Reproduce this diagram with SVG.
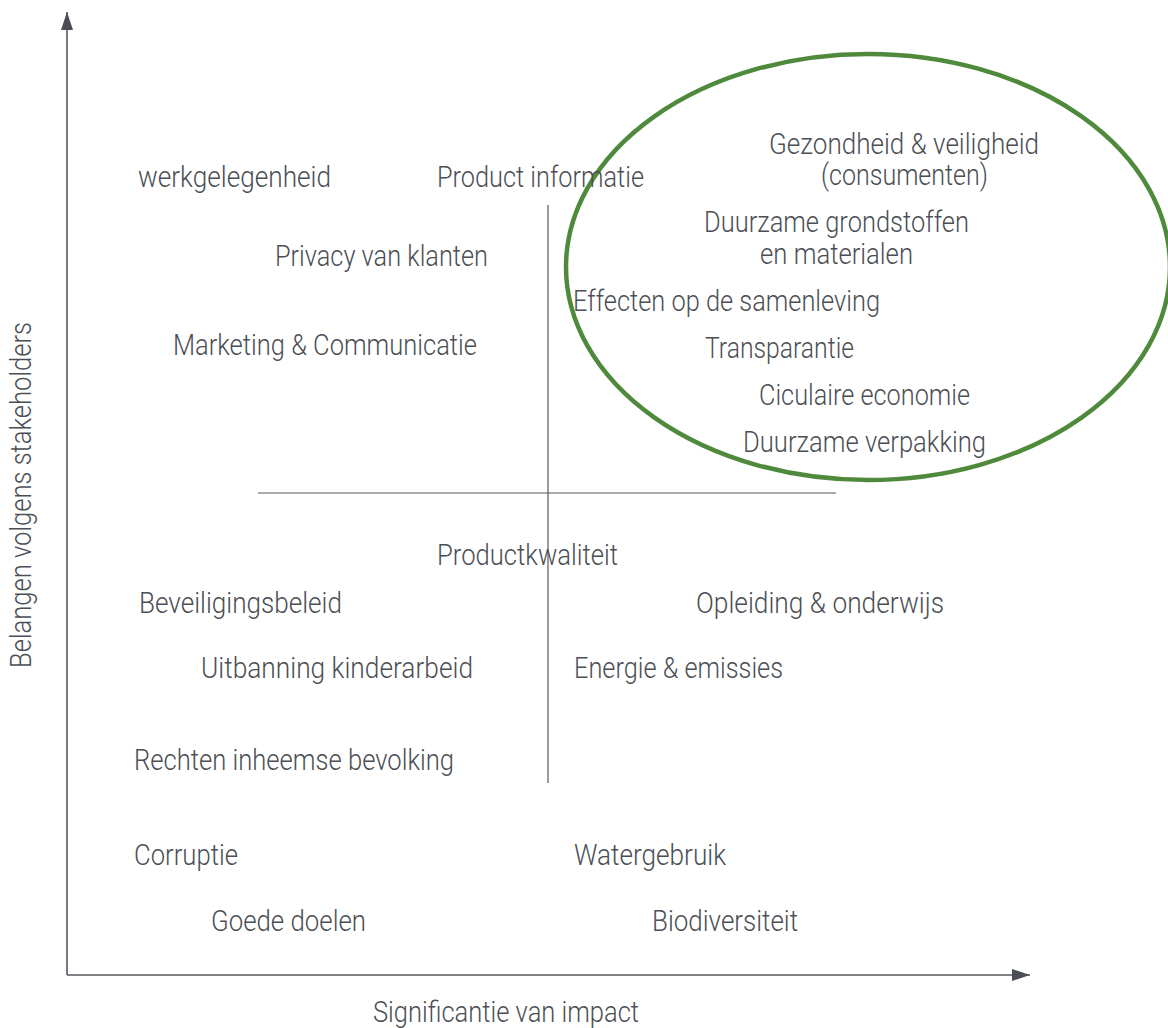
<svg xmlns="http://www.w3.org/2000/svg" width="1168" height="1028" viewBox="0 0 1168 1028">
<style>
text{font-family:Roboto,"Liberation Sans",sans-serif;font-size:29px;font-weight:300;fill:#4b4f55}
.ax{stroke:#55595f;stroke-width:1.6;fill:none}
.cross{stroke:#55595f;stroke-width:1.2;fill:none}
</style>
<defs>
<marker id="arr" viewBox="0 0 18 12" refX="18" refY="6" markerWidth="18" markerHeight="12" markerUnits="userSpaceOnUse" orient="auto">
<path d="M0,0 L18,6 L0,12 Z" fill="#4b4f55"/>
</marker>
</defs>
<rect width="1168" height="1028" fill="#ffffff"/>
<g id="connectors">
<line class="ax" x1="67" y1="975" x2="67" y2="12" marker-end="url(#arr)"/>
<line class="ax" x1="67" y1="975" x2="1030" y2="975" marker-end="url(#arr)"/>
<line class="cross" x1="548" y1="205" x2="548" y2="783"/>
<line class="cross" x1="258" y1="493" x2="836" y2="493"/>
</g>
<g id="highlight">
<ellipse cx="868" cy="267" rx="302" ry="213" fill="none" stroke="#4f8a3c" stroke-width="4.5"/>
</g>
<g id="axis-labels">
<text id="y-label" transform="translate(31,668) rotate(-90)" textLength="346" lengthAdjust="spacingAndGlyphs">Belangen volgens stakeholders</text>
<text id="x-label" x="373" y="1022" textLength="266" lengthAdjust="spacingAndGlyphs">Significantie van impact</text>
</g>
<g id="n-werkgelegenheid"><text x="138" y="187" textLength="193" lengthAdjust="spacingAndGlyphs">werkgelegenheid</text></g>
<g id="n-productinformatie"><text x="437" y="187" textLength="207" lengthAdjust="spacingAndGlyphs">Product informatie</text></g>
<g id="n-privacy"><text x="275" y="266" textLength="213" lengthAdjust="spacingAndGlyphs">Privacy van klanten</text></g>
<g id="n-marketing"><text x="173" y="355" textLength="304" lengthAdjust="spacingAndGlyphs">Marketing &amp; Communicatie</text></g>
<g id="n-gezondheid">
<text x="769" y="154" textLength="270" lengthAdjust="spacingAndGlyphs">Gezondheid &amp; veiligheid</text>
<text x="821" y="185" textLength="167" lengthAdjust="spacingAndGlyphs">(consumenten)</text>
</g>
<g id="n-grondstoffen">
<text x="704" y="232" textLength="265" lengthAdjust="spacingAndGlyphs">Duurzame grondstoffen</text>
<text x="760" y="264" textLength="153" lengthAdjust="spacingAndGlyphs">en materialen</text>
</g>
<g id="n-effecten"><text x="573" y="311" textLength="307" lengthAdjust="spacingAndGlyphs">Effecten op de samenleving</text></g>
<g id="n-transparantie"><text x="705" y="358" textLength="149" lengthAdjust="spacingAndGlyphs">Transparantie</text></g>
<g id="n-circulair"><text x="759" y="405" textLength="211" lengthAdjust="spacingAndGlyphs">Ciculaire economie</text></g>
<g id="n-verpakking"><text x="743" y="452" textLength="243" lengthAdjust="spacingAndGlyphs">Duurzame verpakking</text></g>
<g id="n-productkwaliteit"><text x="437" y="565" textLength="181" lengthAdjust="spacingAndGlyphs">Productkwaliteit</text></g>
<g id="n-beveiliging"><text x="139" y="613" textLength="203" lengthAdjust="spacingAndGlyphs">Beveiligingsbeleid</text></g>
<g id="n-opleiding"><text x="696" y="613" textLength="248" lengthAdjust="spacingAndGlyphs">Opleiding &amp; onderwijs</text></g>
<g id="n-kinderarbeid"><text x="201" y="678" textLength="272" lengthAdjust="spacingAndGlyphs">Uitbanning kinderarbeid</text></g>
<g id="n-energie"><text x="574" y="678" textLength="209" lengthAdjust="spacingAndGlyphs">Energie &amp; emissies</text></g>
<g id="n-inheemse"><text x="134" y="770" textLength="320" lengthAdjust="spacingAndGlyphs">Rechten inheemse bevolking</text></g>
<g id="n-corruptie"><text x="134" y="865" textLength="104" lengthAdjust="spacingAndGlyphs">Corruptie</text></g>
<g id="n-watergebruik"><text x="574" y="865" textLength="152" lengthAdjust="spacingAndGlyphs">Watergebruik</text></g>
<g id="n-goededoelen"><text x="211" y="931" textLength="155" lengthAdjust="spacingAndGlyphs">Goede doelen</text></g>
<g id="n-biodiversiteit"><text x="652" y="931" textLength="146" lengthAdjust="spacingAndGlyphs">Biodiversiteit</text></g>
</svg>
